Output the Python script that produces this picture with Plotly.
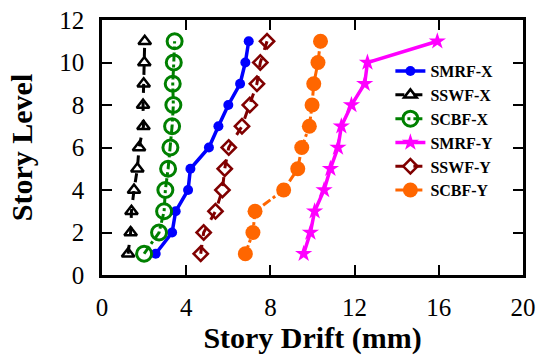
import plotly.graph_objects as go

story = [1, 2, 3, 4, 5, 6, 7, 8, 9, 10, 11]
smrf_x = [2.55, 3.33, 3.50, 4.09, 4.20, 5.08, 5.53, 6.00, 6.56, 6.81, 6.97]
sswf_x = [1.24, 1.36, 1.40, 1.52, 1.68, 1.76, 1.97, 1.95, 1.98, 2.01, 2.03]
scbf_x = [2.00, 2.71, 2.95, 3.01, 3.14, 3.25, 3.33, 3.39, 3.36, 3.41, 3.45]
smrf_y = [9.58, 9.90, 10.10, 10.55, 10.85, 11.21, 11.37, 11.85, 12.48, 12.61, 15.93]
sswf_y = [4.69, 4.83, 5.39, 5.72, 5.83, 6.02, 6.65, 7.02, 7.36, 7.52, 7.84]
scbf_y = [6.81, 7.17, 7.27, 8.63, 9.30, 9.49, 9.85, 9.98, 10.06, 10.26, 10.38]

x_ticks = [0, 4, 8, 12, 16, 20]
y_ticks = [0, 2, 4, 6, 8, 10, 12]

FONT = "Liberation Serif, Times New Roman, serif"

series = [
    ("SMRF-X", smrf_x, "#0000FF", "solid", "circle", 10, 3.5, None),
    ("SSWF-X", sswf_x, "#000000", "dash", "triangle-up-open", 11, 3, 2.5),
    ("SCBF-X", scbf_x, "#008000", "dashdot", "circle-open", 15, 3, 3),
    ("SMRF-Y", smrf_y, "#FF00FF", "solid", "star", 13, 3.5, None),
    ("SSWF-Y", sswf_y, "#800000", "dash", "diamond-open", 11, 3, 2.5),
    ("SCBF-Y", scbf_y, "#FF6600", "dashdot", "circle", 15, 3, None),
]

fig = go.Figure()
for name, xs, color, dash, sym, size, lw, mlw in series:
    marker = dict(symbol=sym, size=size, color=color)
    if mlw is not None:
        marker["line"] = dict(color=color, width=mlw)
    fig.add_trace(go.Scatter(
        x=xs, y=story, name=name, mode="lines+markers",
        line=dict(color=color, width=lw, dash=dash),
        marker=marker,
    ))

axis_common = dict(
    showgrid=False, zeroline=False, showline=True, linecolor="black",
    linewidth=2.5, mirror="ticks", ticks="inside", ticklen=10, tickwidth=2,
    tickcolor="black", tickfont=dict(family=FONT, size=25, color="black"),
)

fig.update_layout(
    width=541, height=359,
    margin=dict(l=102, r=18, t=20, b=84),
    paper_bgcolor="white", plot_bgcolor="white",
    xaxis=dict(range=[0, 20], tickvals=x_ticks, ticklabelstandoff=8,
               automargin=False,
               title=dict(text="<b>Story Drift (mm)</b>", standoff=8,
                          font=dict(family=FONT, size=30, color="black")),
               **axis_common),
    yaxis=dict(range=[0, 12], tickvals=y_ticks, ticklabelstandoff=10,
               automargin=False,
               title=dict(text="<b>Story Level</b>", standoff=18,
                          font=dict(family=FONT, size=30, color="black")),
               **axis_common),
    legend=dict(x=0.685, y=0.866, xanchor="left", yanchor="top",
                bgcolor="rgba(0,0,0,0)", tracegroupgap=0,
                font=dict(family=FONT, size=16, color="black", weight="bold")),
    showlegend=True,
)

fig.write_html("out.html")
